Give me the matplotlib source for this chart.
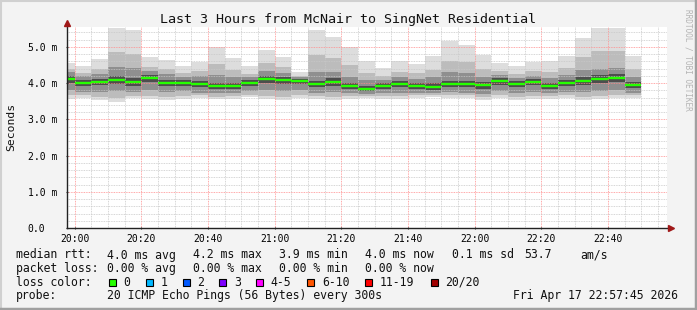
import numpy as np
import matplotlib
matplotlib.use("Agg")
import matplotlib.pyplot as plt
from matplotlib.patches import Rectangle
from matplotlib.lines import Line2D

# 5 minute steps, minutes relative to 20:00 (start of each step)
step_start = np.arange(-5, 170, 5)

median = [4.12, 4.01, 4.04, 4.09, 4.04, 4.15, 4.01, 4.01, 3.98, 3.92, 3.92, 4.01,
          4.12, 4.09, 4.07, 3.98, 4.04, 3.92, 3.84, 3.92, 3.98, 3.92, 3.90, 3.98,
          3.98, 3.95, 4.07, 3.98, 4.04, 3.92, 4.01, 4.07, 4.12, 4.15, 3.96]
ping_max = [4.55, 4.47, 4.67, 5.52, 5.47, 4.72, 4.64, 4.46, 4.59, 5.00, 4.70, 4.46,
            4.92, 4.72, 4.31, 5.47, 5.28, 5.00, 4.61, 4.42, 4.61, 4.53, 4.75, 5.17,
            5.06, 4.78, 4.56, 4.47, 4.59, 4.61, 4.75, 5.25, 5.52, 5.52, 4.75]
ping_hi3 = [4.38, 4.28, 4.40, 4.85, 4.80, 4.45, 4.38, 4.27, 4.33, 4.52, 4.36, 4.26,
            4.55, 4.44, 4.21, 4.78, 4.70, 4.50, 4.28, 4.20, 4.32, 4.27, 4.36, 4.62,
            4.58, 4.40, 4.33, 4.25, 4.34, 4.31, 4.42, 4.72, 4.90, 4.88, 4.40]
ping_hi2 = [4.32, 4.20, 4.26, 4.45, 4.42, 4.33, 4.24, 4.18, 4.20, 4.22, 4.16, 4.17,
            4.33, 4.28, 4.17, 4.30, 4.32, 4.18, 4.08, 4.10, 4.17, 4.12, 4.16, 4.30,
            4.28, 4.17, 4.22, 4.14, 4.20, 4.13, 4.22, 4.36, 4.40, 4.42, 4.18]
ping_hi1 = [4.20, 4.09, 4.12, 4.19, 4.14, 4.22, 4.09, 4.08, 4.06, 4.01, 4.00, 4.08,
            4.20, 4.16, 4.12, 4.07, 4.13, 4.00, 3.92, 3.99, 4.06, 4.00, 3.99, 4.07,
            4.07, 4.03, 4.13, 4.05, 4.11, 4.00, 4.09, 4.17, 4.22, 4.24, 4.04]
ping_lo1 = [4.00, 3.92, 3.94, 3.97, 3.93, 4.03, 3.91, 3.92, 3.88, 3.84, 3.84, 3.92,
            4.00, 3.98, 3.98, 3.88, 3.93, 3.83, 3.77, 3.84, 3.88, 3.83, 3.81, 3.88,
            3.88, 3.85, 3.96, 3.88, 3.94, 3.83, 3.91, 3.96, 4.00, 4.02, 3.86]
ping_lo2 = [3.80, 3.76, 3.76, 3.78, 3.76, 3.82, 3.75, 3.77, 3.74, 3.72, 3.73, 3.78,
            3.80, 3.78, 3.80, 3.74, 3.76, 3.72, 3.70, 3.73, 3.74, 3.72, 3.73, 3.75,
            3.74, 3.70, 3.78, 3.72, 3.76, 3.72, 3.76, 3.75, 3.78, 3.80, 3.74]
ping_lo3 = [3.66, 3.66, 3.63, 3.60, 3.65, 3.65, 3.63, 3.64, 3.66, 3.63, 3.64, 3.68,
            3.64, 3.63, 3.66, 3.64, 3.62, 3.64, 3.65, 3.64, 3.64, 3.66, 3.68, 3.66,
            3.66, 3.61, 3.66, 3.62, 3.64, 3.64, 3.66, 3.62, 3.64, 3.66, 3.66]
ping_min = [3.57, 3.59, 3.54, 3.49, 3.59, 3.56, 3.54, 3.56, 3.59, 3.56, 3.56, 3.63,
            3.56, 3.54, 3.58, 3.56, 3.54, 3.56, 3.59, 3.56, 3.56, 3.59, 3.63, 3.59,
            3.59, 3.54, 3.59, 3.54, 3.56, 3.56, 3.59, 3.54, 3.56, 3.59, 3.59]

tick_pos = [0, 20, 40, 60, 80, 100, 120, 140, 160]
tick_labels = ["20:00", "20:20", "20:40", "21:00", "21:20", "21:40", "22:00", "22:20", "22:40"]
ytick_pos = [0, 1, 2, 3, 4, 5]
ytick_labels = ["0.0", "1.0 m", "2.0 m", "3.0 m", "4.0 m", "5.0 m"]

loss_names = ["0", "1", "2", "3", "4-5", "6-10", "11-19", "20/20"]
loss_colors = ["#26ff00", "#00b8ff", "#0059ff", "#7e00ff", "#ff00ff", "#ff5500", "#ff0000", "#a10000"]

W, H = 697, 310
mono = "DejaVu Sans Mono"
plt.rcParams["font.family"] = mono

fig = plt.figure(figsize=(W / 100, H / 100), dpi=100, facecolor="#f3f3f3")
ax = fig.add_axes([67.3 / W, 1 - 228 / H, 600 / W, 201 / H])
ax.set_facecolor("white")

def fx(x):
    return x / W

def fy(y):
    return 1 - y / H

# smoke bands, outer to inner
bands = [(ping_min, ping_max, "#dddddd"),
         (ping_lo3, ping_hi3, "#bcbcbc"),
         (ping_lo2, ping_hi2, "#8f8f8f"),
         (ping_lo1, ping_hi1, "#4d4d4d")]
for lo, hi, col in bands:
    lo = np.array(lo)
    hi = np.array(hi)
    ax.bar(step_start, hi - lo, bottom=lo, width=5, align="edge", color=col,
           linewidth=0, antialiased=False, zorder=1)

ax.hlines(median, step_start, step_start + 5, colors=loss_colors[0], linewidth=1.7, zorder=3)

ax.set_xlim(-2.25, 177.75)
ax.set_ylim(0, 5.55)

ax.set_xticks(tick_pos)
ax.set_xticklabels(tick_labels, fontsize=7)
ax.set_xticks(np.arange(-0, 180, 5), minor=True)
ax.set_yticks(ytick_pos)
ax.set_yticklabels(ytick_labels, fontsize=7, ha="left")
ax.set_yticks(np.arange(0, 5.6, 0.2), minor=True)

ax.tick_params(axis="x", which="major", length=2, pad=3.5, direction="inout", color="#333333")
ax.tick_params(axis="x", which="minor", length=0)
ax.tick_params(axis="y", which="major", length=2, pad=27.4, direction="inout", color="#333333")
ax.tick_params(axis="y", which="minor", length=0)

ax.set_axisbelow(False)
ax.grid(which="minor", color="#c8c8c8", linestyle=(0, (1, 1)), linewidth=0.6, zorder=2)
ax.grid(which="major", color="#ff8c8c", linestyle=(0, (1, 1)), linewidth=0.6, zorder=2)

for s in ["top", "right"]:
    ax.spines[s].set_visible(False)
for s in ["left", "bottom"]:
    ax.spines[s].set_color("#222222")
    ax.spines[s].set_linewidth(1.0)
    ax.spines[s].set_zorder(4)
ax.spines["bottom"].set_bounds(-2.25, 178.5)
ax.spines["top"].set_visible(False)

# axis arrows
ax.plot([0], [1.02], marker="^", color="#a01818", markersize=4, transform=ax.transAxes, clip_on=False, zorder=5)
ax.plot([1.006], [0], marker=">", color="#a01818", markersize=4, transform=ax.transAxes, clip_on=False, zorder=5)

fig.text(fx(348), fy(19), "Last 3 Hours from McNair to SingNet Residential", fontsize=9.6,
         ha="center", va="center", color="#111111")
fig.text(fx(11), fy(127), "Seconds", fontsize=8.2, rotation=90, ha="center", va="center", color="#111111")
fig.text(fx(688), fy(60), "RRDTOOL / TOBI OETIKER", fontsize=5.6, rotation=-90,
         ha="center", va="center", color="#b4b4b4")

# legend rows
fs = 8.3
row_y = [255, 268.5, 282.3, 296]
rows = [
    [(16, "median rtt:"), (107.3, "4.0 ms avg"), (193.3, "4.2 ms max"), (279.3, "3.9 ms min"),
     (365, "4.0 ms now"), (451.7, "0.1 ms sd"), (524, "53.7"), (580, "am/s")],
    [(16, "packet loss:"), (107.3, "0.00 % avg"), (193.3, "0.00 % max"), (279.3, "0.00 % min"),
     (365, "0.00 % now")],
    [(16, "loss color:")],
    [(16, "probe:"), (107.3, "20 ICMP Echo Pings (56 Bytes) every 300s"), (513.3, "Fri Apr 17 22:57:45 2026")],
]
for y, row in zip(row_y, rows):
    for x, txt in row:
        fig.text(fx(x), fy(y), txt, fontsize=fs, ha="left", va="center", color="#111111")

box_x = [108.7, 145.7, 182.7, 219.3, 256.3, 307.3, 365, 430.7]
for bx, name, col in zip(box_x, loss_names, loss_colors):
    fig.patches.append(Rectangle((fx(bx), fy(286)), 7 / W, 7 / H, transform=fig.transFigure,
                                 facecolor=col, edgecolor="black", linewidth=0.8))
    fig.text(fx(bx + 14.5), fy(282.3), name, fontsize=fs, ha="left", va="center", color="#111111")

# outer frame
fig.add_artist(Line2D([0, 1], [fy(0.5), fy(0.5)], transform=fig.transFigure, color="#d0d0d0", linewidth=1.5))
fig.add_artist(Line2D([fx(0.5), fx(0.5)], [0, 1], transform=fig.transFigure, color="#d0d0d0", linewidth=1.5))
fig.add_artist(Line2D([0, 1], [fy(308.5), fy(308.5)], transform=fig.transFigure, color="#a0a0a0", linewidth=2.5))
fig.add_artist(Line2D([fx(695.5), fx(695.5)], [0, 1], transform=fig.transFigure, color="#a0a0a0", linewidth=2.5))

fig.savefig("out.png", dpi=100, facecolor=fig.get_facecolor())
